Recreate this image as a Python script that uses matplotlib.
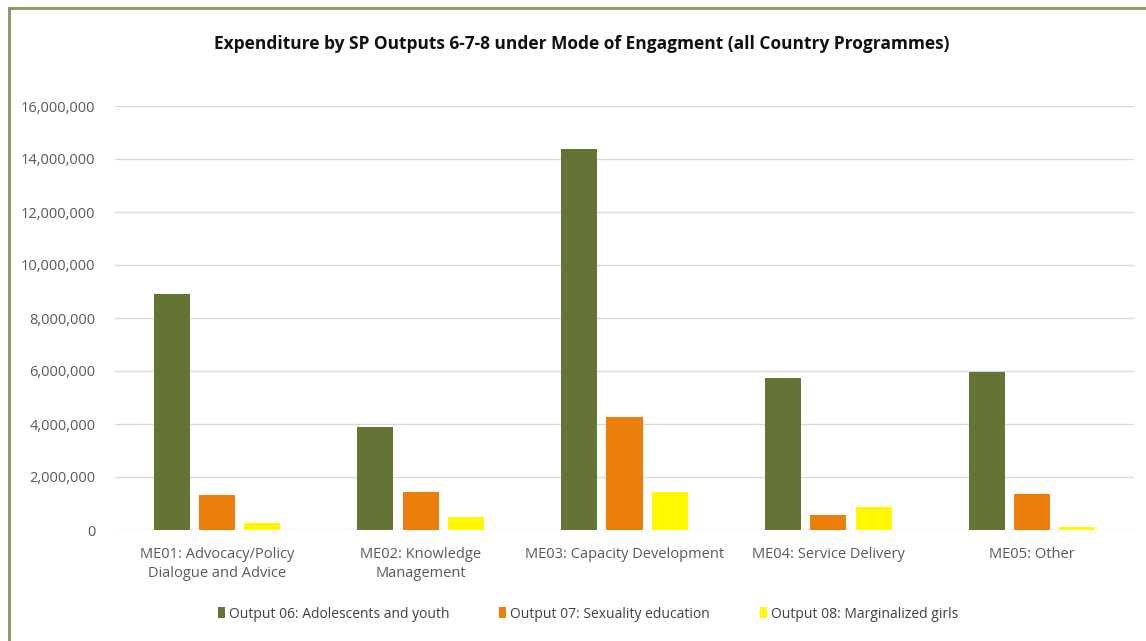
import numpy as np
import matplotlib.pyplot as plt
from matplotlib.patches import Rectangle

categories = ["ME01: Advocacy/Policy\nDialogue and Advice", "ME02: Knowledge\nManagement",
              "ME03: Capacity Development", "ME04: Service Delivery", "ME05: Other"]
series_names = ["Output 06: Adolescents and youth", "Output 07: Sexuality education",
                "Output 08: Marginalized girls"]
output06 = [8900000, 3890000, 14380000, 5740000, 5960000]
output07 = [1320000, 1430000, 4260000, 570000, 1360000]
output08 = [260000, 490000, 1430000, 870000, 130000]
yticks = [0, 2000000, 4000000, 6000000, 8000000, 10000000, 12000000, 14000000, 16000000]

colors = ["#637434", "#ec7f0b", "#fff800"]
font = ["Open Sans", "DejaVu Sans"]
plt.rcParams['font.family'] = font

fig = plt.figure(figsize=(11.46, 6.41), dpi=100)
ax = fig.add_axes([115 / 1146, 111 / 641, 1019 / 1146, 424 / 641])

x = np.arange(len(categories))
step = 0.222
width = 0.177
for i, (vals, c, name) in enumerate(zip([output06, output07, output08], colors, series_names)):
    ax.bar(x + (i - 1) * step, vals, width, color=c, label=name, zorder=3)

ax.set_xlim(-0.5, len(categories) - 0.5)
ax.set_ylim(0, 16000000)
ax.set_yticks(yticks)
ax.set_yticklabels([f"{v:,}" for v in yticks], color="#595959", fontsize=10.5)
ax.set_xticks(x)
ax.set_xticklabels(categories, color="#595959", fontsize=10.5, linespacing=1.35)
ax.tick_params(length=0, pad=14)
ax.tick_params(axis='x', pad=12)
ax.grid(axis='y', color="#d9d9d9", linewidth=1, zorder=0)
for s in ax.spines.values():
    s.set_visible(False)

fig.text(582 / 1146, 1 - 44 / 641, "Expenditure by SP Outputs 6-7-8 under Mode of Engagment (all Country Programmes)",
         ha="center", va="center", fontsize=12.5, fontweight="bold", color="#111111")

leg = fig.legend(loc="center", bbox_to_anchor=(588 / 1146, 1 - 614 / 641), ncol=3, frameon=False,
                 fontsize=10, handlelength=0.5, handleheight=0.9, handletextpad=0.3, columnspacing=3.6)
for t in leg.get_texts():
    t.set_color("#404040")

fig.patches.append(Rectangle((9 / 1146, -0.1), 1.2, 1 - 8 / 641 + 0.1, transform=fig.transFigure,
                             fill=False, edgecolor="#8c9c6c", linewidth=2.2))

fig.savefig("out.png", dpi=100, facecolor="white")
